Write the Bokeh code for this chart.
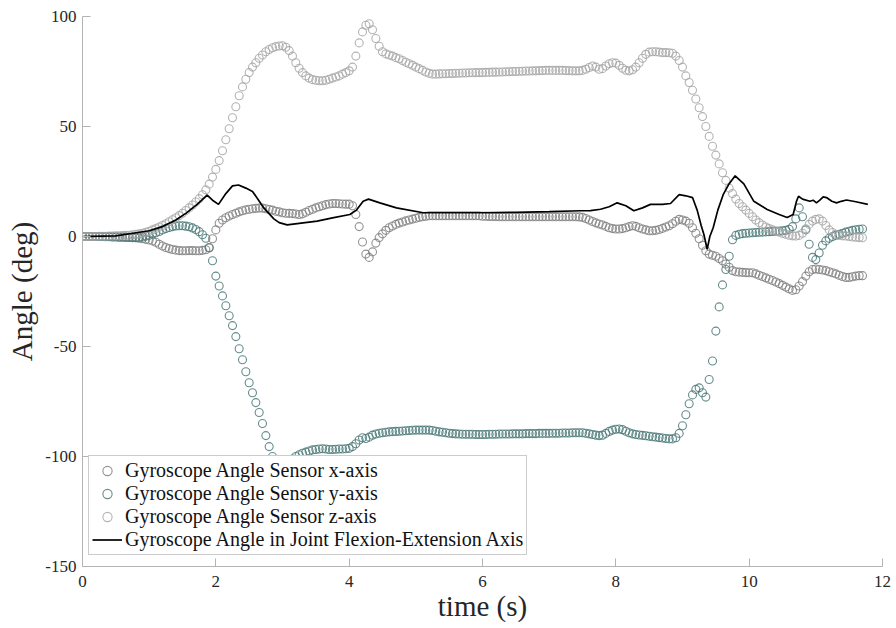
from bokeh.plotting import figure
from bokeh.models import Range1d, FixedTicker
from bokeh.embed import file_html
from bokeh.resources import INLINE

# ---------------- data ----------------
dt = 0.05  # sensor sampling step (s)

# Gyroscope Angle Sensor x-axis (medium grey, stays near 0)
gyro_x = [
    0, 0, 0, 0, 0, 0, 0, 0, 0, -0.1, -0.1, -0.2, -0.2, -0.3, -0.4, -0.5, -0.6, -0.8, -1.0, -1.3,
    -1.6, -2.0, -2.6, -3.5, -4.3, -5.0, -5.5, -5.9, -6.2, -6.4, -6.5, -6.5, -6.4, -6.4, -6.5, -6.5, -6.3, -6.0, -5.2, -1.0,
    3.0, 6.0, 7.5, 8.5, 9.3, 10.0, 10.6, 11.2, 11.7, 12.1, 12.4, 12.6, 12.8, 12.9, 12.9, 12.6, 12.3, 12.0, 11.5, 11.2,
    10.8, 10.6, 10.5, 10.4, 10.2, 10.0, 10.3, 11.0, 11.8, 12.4, 13.0, 13.5, 14.0, 14.5, 14.8, 15.0, 15.0, 14.9, 14.8, 14.7,
    14.7, 14.0, 10.0, 4.5, -2.5, -8.0, -9.5, -7.0, -3.0, -0.5, 1.2, 2.8, 4.0, 4.8, 5.5, 6.1, 6.6, 7.1, 7.5, 7.9,
    8.3, 8.7, 9.0, 9.2, 9.4, 9.4, 9.4, 9.4, 9.4, 9.4, 9.4, 9.4, 9.4, 9.4, 9.4, 9.4, 9.4, 9.4, 9.4, 9.4,
    9.2, 9.2, 9.1, 9.1, 9.1, 9.0, 9.0, 9.0, 9.0, 9.0, 9.0, 9.0, 9.0, 9.0, 9.0, 9.0, 9.0, 9.0, 9.0, 9.0,
    9.0, 9.0, 9.0, 9.0, 9.0, 9.0, 9.0, 9.0, 9.0, 8.9, 8.7, 8.2, 7.5, 6.8, 6.2, 5.7, 5.2, 4.6, 4.0, 3.6,
    3.4, 3.4, 3.6, 4.0, 4.5, 4.9, 4.6, 4.0, 3.4, 3.0, 2.6, 2.6, 2.8, 3.2, 3.7, 4.3, 4.9, 5.8, 6.9, 7.8,
    7.5, 7.0, 6.0, 4.0, 1.5, -1.0, -4.0, -6.5, -8.0, -8.5, -9.0, -10.0, -11.0, -12.5, -14.0, -15.5, -16.0, -16.2, -16.3, -16.4,
    -16.5, -16.5, -17.0, -17.6, -18.2, -18.8, -19.4, -20.0, -20.7, -21.4, -22.2, -23.0, -23.8, -24.5, -24.2, -22.5, -20.5, -18.0, -16.0, -15.0,
    -14.8, -15.0, -15.2, -15.5, -16.0, -16.5, -17.0, -17.6, -18.2, -18.6, -18.6, -18.3, -18.0, -17.8, -17.8,
]

# Gyroscope Angle Sensor y-axis (teal, drops to about -90)
gyro_y = [
    0, 0, 0, 0, 0, 0, 0, -0.1, -0.1, -0.2, -0.2, -0.3, -0.3, -0.4, -0.4, -0.5, -0.5, -0.4, -0.2, 0.2,
    0.6, 1.1, 1.7, 2.3, 3.0, 3.6, 4.1, 4.5, 4.8, 4.9, 4.9, 4.7, 4.4, 3.9, 3.2, 2.2, 0.8, -0.8, -5.0, -11.0,
    -18.0, -22.5, -27.0, -31.5, -36.0, -40.5, -45.5, -51.0, -56.0, -61.5, -66.5, -71.0, -75.5, -80.0, -85.0, -90.5, -95.5, -100.0, -102.5, -103.5,
    -104.0, -103.5, -102.5, -101.2, -100.0, -99.2, -98.5, -98.0, -97.5, -97.0, -96.8, -96.6, -96.5, -96.6, -96.8, -96.8, -96.7, -96.6, -96.6, -96.5,
    -96.3, -95.5, -94.2, -92.5, -91.5, -91.8, -91.2, -90.3, -89.8, -89.4, -89.2, -89.0, -88.8, -88.7, -88.6, -88.5, -88.4, -88.3, -88.2, -88.1,
    -88.0, -88.0, -88.0, -88.0, -88.0, -88.2, -88.5, -88.8, -89.0, -89.2, -89.4, -89.6, -89.7, -89.8, -89.9, -89.9, -89.9, -89.9, -90.0, -90.0,
    -90.0, -90.0, -89.9, -89.9, -89.9, -89.8, -89.8, -89.8, -89.8, -89.7, -89.7, -89.7, -89.7, -89.6, -89.6, -89.6, -89.6, -89.5, -89.5, -89.5,
    -89.5, -89.4, -89.4, -89.4, -89.3, -89.3, -89.3, -89.2, -89.2, -89.2, -89.2, -89.4, -89.7, -90.0, -90.3, -90.5, -90.3, -89.5, -88.6, -88.0,
    -87.6, -87.5, -87.8, -88.5, -89.2, -89.7, -90.0, -90.2, -90.4, -90.6, -90.8, -91.0, -91.2, -91.4, -91.6, -91.8, -92.0, -92.0, -91.5, -89.5,
    -86.0, -81.0, -76.0, -72.0, -69.5, -68.8, -71.0, -73.0, -65.0, -56.6, -43.0, -32.0, -22.0, -15.0, -9.0, -1.5, 0.5, 1.0, 1.3, 1.5,
    1.6, 1.7, 1.8, 1.9, 2.0, 2.1, 2.2, 2.3, 2.4, 2.5, 2.6, 2.8, 3.3, 4.5, 8.0, 13.0, 9.0, 3.0, -3.5, -9.5,
    -10.5, -7.5, -4.0, -2.0, -0.8, 0.0, 0.6, 1.0, 1.5, 2.0, 2.4, 2.8, 3.1, 3.3, 3.4,
]

# Gyroscope Angle Sensor z-axis (light grey, rises to about 75-85)
gyro_z = [
    0, 0, 0, 0, 0, 0.1, 0.1, 0.1, 0.2, 0.2, 0.3, 0.3, 0.4, 0.5, 0.6, 0.8, 1.0, 1.2, 1.5, 1.9,
    2.4, 3.0, 3.6, 4.3, 5.0, 5.8, 6.7, 7.6, 8.5, 9.5, 10.6, 11.8, 13.0, 14.3, 15.7, 17.2, 19.0, 21.2, 23.8, 27.0,
    30.5, 34.5, 39.0, 44.0, 49.0, 54.0, 59.0, 64.0, 68.0, 71.5, 74.5, 77.0, 79.0, 81.0, 82.5, 84.0, 85.0, 85.8, 86.3, 86.6,
    86.7, 86.0, 84.5, 82.0, 79.0, 76.5, 74.5, 73.0, 72.0, 71.3, 71.0, 70.8, 70.8, 71.0, 71.5, 72.0, 72.5, 73.0, 73.8, 74.5,
    75.3, 77.0, 82.0, 88.0, 93.0, 96.0, 96.7, 94.0, 90.0, 86.5, 84.0, 83.0, 82.5, 82.0, 81.3, 80.8, 80.0, 79.2, 78.5, 77.8,
    77.0, 76.3, 75.5, 74.8, 74.2, 73.8, 73.8, 73.9, 74.0, 74.0, 74.1, 74.1, 74.2, 74.2, 74.3, 74.3, 74.4, 74.4, 74.5, 74.5,
    74.5, 74.6, 74.6, 74.7, 74.7, 74.8, 74.8, 74.9, 74.9, 75.0, 75.0, 75.1, 75.1, 75.2, 75.2, 75.3, 75.3, 75.4, 75.4, 75.5,
    75.5, 75.5, 75.5, 75.5, 75.5, 75.4, 75.4, 75.3, 75.3, 75.3, 75.5, 76.0, 76.8, 77.5, 77.0, 76.0, 76.3, 77.5, 78.5, 79.0,
    78.8, 77.8, 76.5, 75.6, 75.3, 75.8, 77.0, 79.0, 81.0, 82.8, 83.8, 84.0, 84.0, 83.8, 83.6, 83.6, 83.5, 83.3, 82.0, 80.0,
    77.0, 73.0, 70.0, 66.5, 62.5, 58.5, 54.5, 50.0, 45.5, 41.0, 37.0, 33.0, 29.0, 25.5, 22.0, 19.5, 17.0, 15.0, 13.5, 12.0,
    10.5, 9.0, 7.5, 6.3, 5.2, 4.3, 3.6, 3.0, 2.5, 2.0, 1.5, 1.0, 0.6, 0.3, 0.2, 0.5, 1.5, 3.5, 5.5, 7.0,
    7.8, 8.0, 7.0, 5.0, 3.0, 1.8, 1.0, 0.5, 0.3, 0.2, 0.0, -0.2, -0.3, -0.5, -0.6,
]

t_sensor = [round(i * dt, 2) for i in range(len(gyro_x))]

# Gyroscope Angle in Joint Flexion-Extension Axis (black line)
flex_t = [0, 0.5, 1.0, 1.2, 1.4, 1.55, 1.72, 1.87, 1.95, 2.04, 2.15, 2.25, 2.34, 2.45, 2.55, 2.72,
          2.87, 2.95, 3.07, 3.25, 3.52, 3.75, 4.01, 4.11, 4.21, 4.29, 4.46, 4.71, 5.11, 5.97, 6.5,
          7.0, 7.47, 7.62, 7.77, 7.9, 8.02, 8.15, 8.27, 8.4, 8.52, 8.7, 8.82, 8.95, 9.05, 9.15,
          9.22, 9.28, 9.32, 9.37, 9.41, 9.46, 9.53, 9.61, 9.7, 9.79, 9.92, 10.07, 10.27, 10.45,
          10.57, 10.66, 10.71, 10.74, 10.8, 10.91, 10.96, 11.01, 11.06, 11.11, 11.16, 11.24,
          11.31, 11.38, 11.46, 11.6, 11.78]
flex_v = [0, 0.3, 2.6, 4.5, 7.5, 10.5, 14.6, 18.8, 16.5, 14.6, 19.5, 23.0, 23.4, 22.0, 20.5, 13.0,
          8.0, 6.3, 5.3, 6.0, 7.0, 8.5, 10.0, 12.0, 16.0, 17.0, 15.3, 13.0, 10.8, 10.8, 11.0,
          11.3, 11.7, 11.8, 12.4, 13.5, 15.3, 14.0, 11.7, 13.0, 14.6, 14.6, 15.0, 19.0, 18.5, 17.7,
          12.0, 5.0, 1.0, -5.8, 0.0, 4.0, 12.0, 19.0, 24.0, 27.6, 23.9, 16.0, 12.3, 10.0,
          8.6, 10.0, 16.0, 18.3, 17.0, 16.0, 16.5, 15.3, 16.5, 18.0, 17.7, 16.0,
          15.3, 16.0, 16.6, 15.8, 14.6]

x_ticks = [0, 2, 4, 6, 8, 10, 12]
y_ticks = [-150, -100, -50, 0, 50, 100]
y_tick_labels = {-150: "-150", -100: "-100", -50: "-50", 0: "0", 50: "50", 100: "100"}

# ---------------- figure ----------------
FONT = "Liberation Serif"
AX_COL = "#b3b3b3"
TXT_COL = "#262626"

p = figure(width=896, height=628, output_backend="svg", toolbar_location=None,
           x_range=Range1d(0, 12), y_range=Range1d(-150, 100),
           min_border_left=82, min_border_right=14, min_border_top=16, min_border_bottom=62)
p.xgrid.visible = False
p.ygrid.visible = False
p.outline_line_color = None
p.background_fill_color = "white"

for ax, ticks in ((p.xaxis, x_ticks), (p.yaxis, y_ticks)):
    ax.ticker = FixedTicker(ticks=ticks)
    ax.major_tick_in = 8
    ax.major_tick_out = 0
    ax.minor_tick_line_color = None
    ax.axis_line_color = AX_COL
    ax.major_tick_line_color = AX_COL
    ax.major_label_text_font = FONT
    ax.major_label_text_font_size = "17px"
    ax.major_label_text_color = TXT_COL
    ax.axis_label_text_font = FONT
    ax.axis_label_text_font_size = "29px"
    ax.axis_label_text_font_style = "normal"
    ax.axis_label_text_color = TXT_COL
p.yaxis.major_label_overrides = y_tick_labels
p.yaxis.major_label_standoff = 6
p.xaxis.major_label_standoff = 9
p.xaxis.axis_label = "time (s)"
p.yaxis.axis_label = "Angle (deg)"
p.xaxis.axis_label_standoff = 0
p.yaxis.axis_label_standoff = 4

common = dict(marker="circle", size=8, fill_color=None, line_width=1.1)
p.scatter(t_sensor, gyro_x, line_color="#808080", line_alpha=0.85,
          legend_label="Gyroscope Angle Sensor x-axis", **common)
p.scatter(t_sensor, gyro_y, line_color="#4a7878", line_alpha=0.85,
          legend_label="Gyroscope Angle Sensor y-axis", **common)
p.scatter(t_sensor, gyro_z, line_color="#a6a6a6", line_alpha=0.85,
          legend_label="Gyroscope Angle Sensor z-axis", **common)
p.line(flex_t, flex_v, line_color="black", line_width=1.7,
       legend_label="Gyroscope Angle in Joint Flexion-Extension Axis")

lg = p.legend[0]
lg.location = (6, 11)
lg.label_text_font = FONT
lg.label_text_font_size = "20px"
lg.label_text_color = "#111111"
lg.label_height = 23
lg.glyph_height = 23
lg.glyph_width = 30
lg.label_standoff = 3
lg.padding = 3
lg.spacing = 0
lg.margin = 0
lg.border_line_color = "#9a9a9a"
lg.border_line_width = 1
lg.background_fill_color = "white"
lg.background_fill_alpha = 1.0

open("out.html", "w").write(file_html(p, INLINE))
